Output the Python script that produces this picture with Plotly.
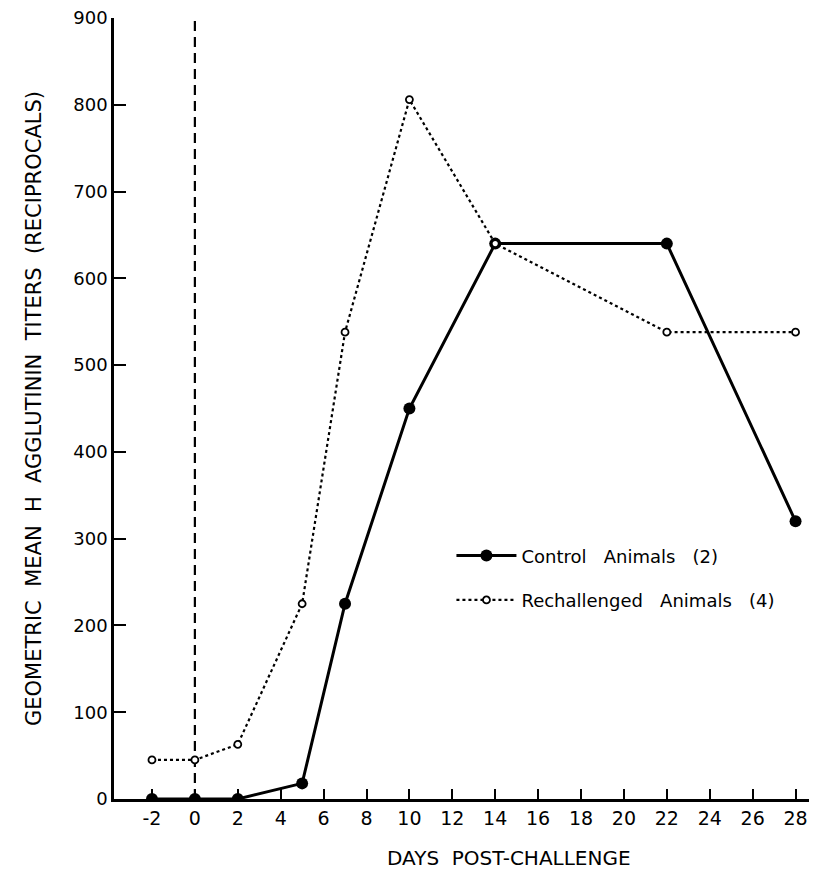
import plotly.graph_objects as go

days_control = [-2, 0, 2, 5, 7, 10, 14, 22, 28]
titers_control = [0, 0, 0, 18, 225, 450, 640, 640, 320]
days_rechal = [-2, 0, 2, 5, 7, 10, 14, 22, 28]
titers_rechal = [45, 45, 63, 225, 538, 806, 640, 538, 538]
x_ticks = list(range(-2, 29, 2))
y_ticks = list(range(0, 901, 100))

font_fam = "DejaVu Sans, sans-serif"

fig = go.Figure()
fig.add_trace(go.Scatter(
    x=days_control, y=titers_control, mode="lines+markers",
    name="Control   Animals   (2)", legendgroup="a",
    line=dict(color="black", width=3),
    marker=dict(color="black", size=12),
))
fig.add_trace(go.Scatter(
    x=days_rechal, y=titers_rechal, mode="lines+markers",
    name="Rechallenged   Animals   (4)", legendgroup="b",
    line=dict(color="black", width=2.2, dash="dot"),
    marker=dict(color="white", size=7, line=dict(color="black", width=1.8)),
))

fig.add_shape(type="line", x0=0, x1=0, y0=0, y1=900, xref="x", yref="y",
              line=dict(color="black", width=2.2, dash="10px,6px"), layer="below")

fig.update_layout(
    width=817, height=871,
    margin=dict(l=106, r=8, t=10, b=80),
    plot_bgcolor="white", paper_bgcolor="white",
    font=dict(family=font_fam, color="black", size=17),
    showlegend=True,
    legend=dict(x=0.48, y=0.335, xanchor="left", yanchor="top",
                font=dict(size=18, family=font_fam), bgcolor="rgba(0,0,0,0)",
                itemwidth=60, tracegroupgap=18),
    xaxis=dict(range=[-3.77, 29.0], tickvals=x_ticks, ticktext=[str(v) for v in x_ticks],
               showgrid=False, zeroline=False, showline=True, linecolor="black", linewidth=2.5,
               ticks="inside", ticklen=10, tickwidth=2, tickcolor="black",
               tickfont=dict(size=19), ticklabeloverflow="allow", automargin=False),
    yaxis=dict(range=[0, 900], tickvals=y_ticks, ticktext=[str(v) for v in y_ticks],
               showgrid=False, zeroline=False, showline=True, linecolor="black", linewidth=2.5,
               ticks="inside", ticklen=12, tickwidth=2, tickcolor="black",
               tickfont=dict(size=18), ticklabeloverflow="allow", automargin=False,
               title=dict(text="GEOMETRIC  MEAN  H  AGGLUTININ  TITERS  (RECIPROCALS)",
                          font=dict(size=21), standoff=26)),
)

fig.add_annotation(text="DAYS  POST-CHALLENGE", xref="paper", yref="paper",
                   x=(501 - 106) / 703, y=-(850 - 791) / 781, xanchor="center", yanchor="middle",
                   showarrow=False, font=dict(size=20, family=font_fam))

fig.write_html("out.html")
